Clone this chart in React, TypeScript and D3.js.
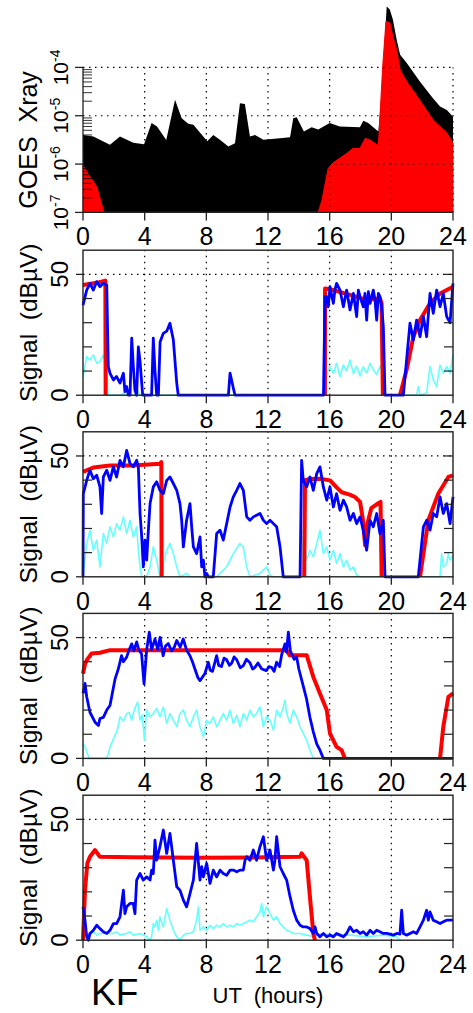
import React from 'react';
import * as d3 from 'd3';

type P = [number, number | null];

// ---- axis ticks / labels ----
const HOUR_TICKS = [0, 4, 8, 12, 16, 20, 24];
const GRID_HOURS = [4, 8, 12, 16, 20];
const SIGNAL_LABEL_TICKS = [0, 50];
const SIGNAL_MINOR_TICKS = [10, 20, 30, 40];
const XRAY_EXPONENTS = [-7, -6, -5, -4];
const XRAY_GRID_EXPONENTS = [-6, -5, -4];
const SIGNAL_TITLE = 'Signal  (dBµV)';
const XRAY_TITLE = 'GOES  Xray';
const STATION = 'KF';
const X_TITLE = 'UT  (hours)';

// ---- GOES X-ray flux (W/m^2), long (black) and short (red) channel ----
const xrayLong: P[] = [
  [0, 3.98e-6], [0.67, 3.7e-6], [1.75, 2.5e-6], [2.4, 3.7e-6], [3.26, 2.75e-6], [3.96, 2.57e-6],
  [4.45, 7.1e-6], [4.8, 6.0e-6], [5.4, 3.16e-6], [5.97, 2.14e-5], [6.4, 8.9e-6], [6.83, 6.8e-6],
  [7.16, 6.5e-6], [8.06, 2.95e-6], [8.45, 3.98e-6], [8.9, 3.16e-6], [9.43, 2.3e-6], [9.86, 2.7e-6],
  [10.18, 1.82e-5], [10.5, 1.74e-5], [10.83, 3.7e-6], [11.16, 3.98e-6], [11.7, 3.2e-6], [12.6, 3.4e-6],
  [13.43, 3.6e-6], [13.64, 8.9e-6], [13.86, 9.3e-6], [14.33, 4.7e-6], [14.83, 5.8e-6], [15.26, 5.2e-6],
  [16.0, 7.1e-6], [16.66, 6.0e-6], [17.96, 5.8e-6], [18.18, 7.9e-6], [18.5, 7.1e-6], [19.16, 4.7e-6],
  [19.37, 2.95e-5], [19.7, 1.82e-3], [19.9, 1.58e-3], [20.1, 9.8e-4], [20.35, 3.7e-4], [20.57, 1.82e-4],
  [21.0, 1.23e-4], [21.85, 5.1e-5], [22.7, 2.3e-5], [23.16, 1.55e-5], [23.6, 1.32e-5], [24, 9.5e-6],
];
const xrayShort: P[] = [
  [0, 9.5e-7], [0.45, 5.5e-7], [0.9, 3.4e-7], [1.32, 1.1e-7], [1.4, 1e-7], [15.26, 1e-7],
  [15.5, 1.8e-7], [15.9, 8.1e-7], [16.2, 1.05e-6], [17.1, 1.66e-6], [17.5, 2.1e-6], [17.96, 2.1e-6],
  [18.3, 3.4e-6], [18.6, 3.2e-6], [19.16, 2.4e-6], [19.44, 1.05e-4], [19.65, 8.9e-4], [19.9, 8.5e-4],
  [20.1, 4.4e-4], [20.35, 2.3e-4], [20.57, 8.9e-5], [21.0, 5.1e-5], [21.85, 2.1e-5], [22.7, 8.3e-6],
  [23.6, 4.4e-6], [24, 2.7e-6],
];

// ---- Panel 1 ----
const sig1Model: P[] = [
  [0, 45.6], [0.5, 46.1], [1.0, 46.7], [1.45, 47.4], [1.47, 0], [1.48, null], [15.68, null], [15.69, 0],
  [15.7, 44.2], [16.24, 43.5], [17.32, 41.5], [18.4, 39.4], [19.26, 40.1], [19.37, 38], [19.45, 0],
  [19.46, null], [20.55, null], [20.56, 0], [20.99, 10.5], [21.43, 24.2], [21.86, 31.1], [22.51, 38],
  [23.16, 42.1], [24, 44.9],
];
const sig1Meas: P[] = [
  [0, 37.3], [0.24, 43.5], [0.45, 46.3], [0.67, 43.5], [0.89, 47], [1.1, 44.9], [1.32, 46.3], [1.54, 45.6],
  [1.64, 11.8], [1.75, 9.1], [1.97, 6.3], [2.18, 7.7], [2.4, 5], [2.62, 9.1], [2.72, 1.5], [2.83, 3.6],
  [2.94, 0], [3.05, 0], [3.16, 23.6], [3.26, 12.5], [3.37, 2], [3.48, 0], [3.59, 20], [3.7, 14], [3.87, 0],
  [4.45, 0], [4.56, 23.6], [4.67, 10], [4.78, 0], [4.89, 0], [5.0, 22], [5.21, 25.6], [5.43, 26.5],
  [5.64, 29.8], [5.86, 22.9], [6.08, 5], [6.18, 0], [9.43, 0], [9.54, 9.1], [9.75, 3], [9.86, 0],
  [15.6, 0], [15.7, 40.8], [15.81, 40.8], [15.91, 36.6], [16.02, 44.9], [16.24, 38], [16.34, 43.5],
  [16.45, 46.3], [16.67, 43.5], [16.89, 36.6], [17.1, 43.5], [17.32, 35.3], [17.54, 42.1], [17.75, 32.5],
  [17.86, 43.5], [17.97, 40.8], [18.18, 36.6], [18.29, 42.1], [18.4, 31.1], [18.51, 42.8], [18.62, 38],
  [18.83, 43.5], [18.94, 39.4], [19.05, 31.1], [19.16, 42.1], [19.26, 40.8], [19.37, 36.6], [19.48, 28.5],
  [19.59, 0], [20.78, 0], [20.99, 14.6], [21.21, 29.8], [21.43, 22.9], [21.64, 31.1], [21.86, 24.2],
  [22.08, 32.5], [22.29, 24.2], [22.51, 42.1], [22.72, 33.9], [22.94, 43.5], [23.16, 36.6], [23.37, 42.1],
  [23.59, 32.5], [23.81, 30], [24, 46.3],
];
const sig1Weak: P[] = [
  [0, 7.7], [0.13, 12], [0.24, 16], [0.45, 14.6], [0.67, 16.7], [0.89, 13.2], [1.1, 14], [1.32, 16.7],
  [1.43, 14], [1.54, 10], [1.64, 0], [2.5, 0], [2.62, 1], [2.72, 0], [3.5, 0], [3.59, 1.5], [3.7, 0],
  [15.7, 0], [15.81, 9.1], [16.02, 11.8], [16.24, 9.1], [16.45, 13.2], [16.67, 7.7], [16.89, 12.5],
  [17.1, 10], [17.32, 14.6], [17.54, 9], [17.75, 12], [17.97, 8], [18.18, 11.8], [18.4, 9.1],
  [18.62, 13.2], [18.83, 10.5], [19.05, 8.5], [19.26, 12], [19.48, 9.1], [19.59, 0], [21.64, 0],
  [21.75, 3.6], [21.86, 0], [22.29, 1], [22.51, 12], [22.72, 6.3], [22.94, 3.6], [23.16, 12.5],
  [23.37, 9.1], [23.59, 11.8], [23.81, 9.1], [24, 16.7],
];

// ---- Panel 2 ----
const sig2Model: P[] = [
  [0, 43.4], [0.67, 45.2], [1.75, 46.1], [3.26, 46.1], [4.99, 46.8], [5.08, 47.5], [5.1, 0], [5.11, null],
  [14.34, null], [14.35, 0], [14.4, 40], [14.72, 40.5], [15.37, 40.6], [16.02, 39.9], [16.45, 37],
  [16.78, 35], [17.3, 34], [17.64, 33], [17.97, 31], [18.15, 24], [18.3, 13], [18.45, 22], [18.7, 28.4],
  [19.05, 30], [19.3, 31], [19.37, 0], [19.38, null], [21.85, null], [21.86, 0], [22.4, 23.4],
  [23.05, 34.5], [23.7, 41.3], [24, 42],
];
const sig2Meas: P[] = [
  [0, 0], [0.02, 34.4], [0.24, 39.9], [0.45, 44.1], [0.67, 40.6], [0.89, 42], [1.1, 37.2], [1.21, 26.2],
  [1.32, 41.3], [1.54, 44.1], [1.75, 39.9], [1.97, 45.5], [2.18, 41.3], [2.4, 48.2], [2.62, 45.5],
  [2.83, 52.3], [3.05, 46.8], [3.26, 45.5], [3.48, 48.2], [3.59, 45.5], [3.7, 26.2], [3.81, 16.5],
  [3.91, 4.1], [4.02, 15.2], [4.13, 6.9], [4.24, 19.3], [4.35, 30.3], [4.56, 37.2], [4.78, 39.3],
  [4.99, 35.8], [5.21, 34.4], [5.43, 39.9], [5.64, 41.3], [5.86, 38.6], [6.08, 35.8], [6.29, 30.3],
  [6.4, 23.4], [6.51, 12.4], [6.72, 23.4], [6.94, 30.3], [7.05, 20.7], [7.16, 12.4], [7.37, 9.6],
  [7.59, 16.5], [7.7, 4.1], [7.81, 6.9], [7.91, 0], [8.02, 1.4], [8.13, 0], [8.45, 0], [8.67, 17.9],
  [8.89, 19.3], [9.1, 15.2], [9.32, 22], [9.54, 28.9], [9.75, 33.1], [9.97, 35.8], [10.18, 38.6],
  [10.4, 35.8], [10.62, 24.8], [10.83, 23.4], [11.05, 24.8], [11.26, 25.5], [11.48, 26.2], [11.7, 23.4],
  [11.91, 22], [12.13, 23.4], [12.35, 22], [12.56, 20.7], [12.78, 12.4], [12.99, 0], [14.08, 0],
  [14.18, 48.2], [14.29, 39.9], [14.51, 37.2], [14.72, 41.3], [14.94, 35.8], [15.16, 42.7], [15.37, 45.5],
  [15.59, 37.2], [15.81, 31.7], [16.02, 37.2], [16.24, 28.9], [16.45, 34.4], [16.67, 27.5], [16.89, 31.7],
  [17.1, 28.9], [17.32, 23.4], [17.54, 26.2], [17.75, 22], [17.97, 24.8], [18.18, 19.3], [18.4, 11],
  [18.62, 23.4], [18.83, 20.7], [19.05, 26.2], [19.26, 17.9], [19.48, 23.4], [19.59, 0], [21.75, 0],
  [22.08, 20.7], [22.29, 23.4], [22.51, 19.3], [22.72, 26.2], [22.94, 24.8], [23.16, 33.1], [23.37, 26.2],
  [23.59, 30.3], [23.81, 22], [24, 33.1],
];
const sig2Weak: P[] = [
  [0, 0], [0.24, 13.8], [0.45, 19.3], [0.67, 11], [0.89, 15.2], [1.1, 4.1], [1.32, 17.9], [1.54, 13.8],
  [1.75, 20.7], [1.97, 16.5], [2.18, 22], [2.4, 19.3], [2.62, 24.8], [2.83, 17.9], [3.05, 23.4],
  [3.26, 16.5], [3.48, 20.7], [3.59, 11], [3.7, 4.1], [3.81, 0], [4.13, 0], [4.35, 4.1], [4.56, 12.4],
  [4.78, 6.9], [4.99, 0], [5.21, 5.5], [5.43, 11], [5.64, 13.8], [5.86, 9.6], [6.08, 4.1], [6.29, 0],
  [6.72, 1.4], [6.94, 0], [8.67, 0], [9.32, 4.1], [9.75, 9.6], [10.18, 13.8], [10.4, 12.4], [10.62, 4.1],
  [10.83, 0], [11.48, 1.4], [11.91, 4.1], [12.13, 0.7], [12.35, 0], [14.18, 0], [14.29, 19.3],
  [14.4, 12.4], [14.51, 6.9], [14.72, 11], [14.94, 8.3], [15.16, 13.8], [15.37, 19.3], [15.59, 9.6],
  [15.81, 12.4], [16.02, 6.9], [16.24, 11], [16.45, 5.5], [16.67, 9.6], [16.89, 4.1], [17.1, 6.9],
  [17.32, 2.8], [17.54, 4.1], [17.75, 0.7], [17.97, 0], [23.16, 0], [23.26, 9.6], [23.37, 4.1],
  [23.59, 5.5], [23.7, 9.6], [23.81, 6.9], [24, 9],
];

// ---- Panel 3 ----
const sig3Model: P[] = [
  [0, 35.1], [0.13, 39], [0.24, 40.6], [0.56, 43.4], [1.1, 43.7], [1.75, 44.8], [5, 44.8], [10, 44.8],
  [13.21, 44.8], [13.4, 42.7], [14.51, 42.7], [14.94, 33.7], [15.37, 26.9], [15.81, 20], [16.02, 10.3],
  [16.45, 4.8], [16.78, 3.4], [16.99, 0], [17, null], [23.15, null], [23.16, 0], [23.37, 13.1],
  [23.7, 25.5], [24, 26.9],
];
const sig3Meas: P[] = [
  [0, 26.9], [0.13, 31], [0.24, 25.5], [0.45, 19.1], [0.78, 15], [1.0, 13.6], [1.1, 16.5], [1.32, 17],
  [1.54, 20], [1.75, 21.9], [2.08, 32.9], [2.29, 37], [2.5, 42.5], [2.62, 40], [2.83, 41.9], [3.0, 45],
  [3.16, 47.4], [3.3, 44.5], [3.48, 48.2], [3.62, 45], [3.8, 43.2], [3.96, 30.8], [4.13, 45], [4.3, 52.2],
  [4.45, 45], [4.67, 49.4], [4.85, 45], [5.0, 50.1], [5.2, 42.5], [5.35, 46.5], [5.53, 47.5], [5.75, 44.5],
  [5.92, 46], [6.08, 48.8], [6.3, 46], [6.5, 49.4], [6.72, 44.8], [6.94, 42.5], [7.1, 40], [7.26, 37],
  [7.45, 33.5], [7.59, 32.2], [7.9, 35], [8.13, 39.8], [8.25, 36.5], [8.4, 36], [8.67, 42.5], [8.8, 38.5],
  [8.98, 38], [9.15, 41.5], [9.32, 40.8], [9.5, 38.5], [9.65, 39.5], [9.8, 42], [9.97, 40.8], [10.2, 37.5],
  [10.4, 38.4], [10.6, 41], [10.83, 39.6], [11.0, 37], [11.16, 37.7], [11.35, 39.5], [11.6, 37],
  [11.9, 36.3], [12.05, 38], [12.23, 37.7], [12.4, 36], [12.56, 39.8], [12.75, 38], [12.89, 43],
  [13.1, 47.4], [13.2, 44], [13.32, 52.2], [13.45, 44.5], [13.54, 43.2], [13.7, 41], [13.86, 42],
  [14.0, 37], [14.25, 30.8], [14.5, 24.6], [14.72, 17], [14.94, 11], [15.16, 6], [15.37, 3.4],
  [15.59, 0], [24, 0],
];
const sig3Weak: P[] = [
  [0, 6.2], [0.13, 4.8], [0.4, 0], [1.5, 0], [1.65, 2], [1.75, 4.7], [1.97, 8], [2.18, 11],
  [2.29, 13.6], [2.4, 17.2], [2.62, 15.5], [2.83, 18.6], [3.0, 19], [3.16, 15.8], [3.35, 20.5], [3.54, 23.3],
  [3.7, 15.8], [3.85, 18], [3.98, 7.5], [4.13, 20], [4.35, 17.2], [4.56, 18.6], [4.78, 20.7], [4.99, 17.2],
  [5.21, 21.3], [5.43, 14.5], [5.64, 18.6], [5.86, 15.8], [6.08, 13.1], [6.29, 18.6], [6.51, 20],
  [6.72, 15.8], [6.94, 13.1], [7.16, 17.2], [7.37, 20], [7.59, 13.1], [7.81, 9], [8.02, 15.8], [8.24, 14.5],
  [8.45, 17.2], [8.67, 13.1], [8.89, 15.8], [9.1, 18.6], [9.32, 15.8], [9.54, 20], [9.75, 14.5],
  [9.97, 17.9], [10.18, 13.1], [10.4, 18.6], [10.62, 15.8], [10.83, 20], [11.05, 17.2], [11.26, 18.6],
  [11.48, 21.3], [11.7, 13.1], [11.91, 17.2], [12.13, 15.8], [12.35, 11.7], [12.56, 20], [12.78, 17.2],
  [12.99, 21.3], [13.1, 24.1], [13.21, 18.6], [13.43, 14.5], [13.64, 20], [13.86, 17.2], [14.08, 13.1],
  [14.29, 10.3], [14.51, 7.6], [14.72, 3.4], [14.94, 0], [24, 0],
];

// ---- Panel 4 ----
const sig4Model: P[] = [
  [0, 0], [0.13, 20.7], [0.28, 31.8], [0.45, 34.5], [0.78, 37.3], [1.1, 34.5], [3.26, 34.3], [7.59, 34.1],
  [11.91, 34.3], [14.08, 34.5], [14.18, 35.9], [14.51, 33.1], [14.72, 18], [14.94, 2.8], [15.05, 0],
];
const sig4Meas: P[] = [
  [0, 13.8], [0.13, 8.3], [0.24, 1.4], [0.35, 0], [0.45, 2.8], [0.67, 4.1], [0.89, 6.2], [1.1, 4.8],
  [1.32, 3.5], [1.54, 2.8], [1.75, 4.1], [1.97, 6.9], [2.18, 6.9], [2.4, 9.7], [2.62, 20.7], [2.72, 11],
  [2.83, 13.8], [3.05, 15.2], [3.26, 15.2], [3.37, 11], [3.48, 24.9], [3.7, 27.6], [3.91, 24.9],
  [4.13, 26.2], [4.35, 24.9], [4.45, 29], [4.56, 27.6], [4.67, 41.4], [4.78, 33.1], [4.99, 38.7],
  [5.21, 45.6], [5.43, 35.9], [5.64, 44.2], [5.86, 33.1], [6.08, 22.1], [6.29, 20.7], [6.51, 16.6],
  [6.72, 13.8], [6.94, 19.3], [7.16, 24.9], [7.37, 40.1], [7.59, 24.9], [7.7, 30.4], [7.81, 26.2],
  [8.02, 31.8], [8.24, 23.5], [8.45, 29], [8.67, 26.2], [8.89, 29], [9.1, 27.6], [9.32, 26.9], [9.54, 29],
  [9.75, 29], [9.97, 28.3], [10.18, 29], [10.4, 29], [10.51, 33.1], [10.62, 34.5], [10.83, 33.1],
  [11.05, 37.3], [11.26, 33.1], [11.48, 38.7], [11.7, 42.8], [11.91, 33.1], [12.13, 37.3], [12.35, 29],
  [12.45, 33.1], [12.56, 42.8], [12.78, 30.4], [12.99, 27.6], [13.21, 24.9], [13.43, 18], [13.64, 12.4],
  [13.86, 8.3], [14.08, 6.2], [14.29, 5.5], [14.51, 5.5], [14.72, 4.8], [14.94, 2.8], [15.05, 5.5],
  [15.16, 2.8], [15.37, 1.4], [15.59, 2.8], [15.81, 1.4], [16.02, 2.1], [16.24, 1.4], [16.45, 2.8],
  [16.67, 2.1], [16.89, 1.4], [17.1, 2.8], [17.32, 5.5], [17.54, 3.5], [17.75, 4.1], [17.97, 2.8],
  [18.18, 3.5], [18.4, 2.1], [18.62, 4.1], [18.83, 2.8], [19.05, 4.1], [19.26, 3.5], [19.48, 2.8],
  [19.7, 2.8], [19.91, 2.5], [20.13, 2.1], [20.35, 2.8], [20.56, 2.5], [20.67, 12.4], [20.78, 2.8],
  [20.99, 2.1], [21.21, 2.8], [21.43, 3.5], [21.64, 2.8], [21.86, 5.5], [22.08, 8.3], [22.29, 12.4],
  [22.4, 8.3], [22.51, 11.7], [22.72, 8.3], [22.94, 7.6], [23.16, 6.9], [23.37, 7.6], [23.59, 8.3],
  [24, 8.3],
];
const sig4Weak: P[] = [
  [0, 1.4], [0.24, 2.8], [0.45, 2.1], [0.67, 3.5], [0.89, 2.1], [1.1, 2.8], [1.54, 2.8], [1.97, 2.8],
  [2.18, 3.5], [2.4, 2.1], [2.83, 2.8], [3.05, 3.5], [3.26, 2.1], [3.7, 2.8], [4.13, 1.4], [4.35, 0],
  [4.45, 1.4], [4.56, 6.9], [4.67, 5.5], [4.78, 8.3], [4.89, 4.1], [4.99, 9.7], [5.21, 5.5], [5.43, 13.1],
  [5.64, 8.3], [5.86, 4.1], [6.08, 1.4], [6.29, 0], [6.51, 2.1], [6.72, 2.8], [6.94, 2.8], [7.16, 3.5],
  [7.37, 8.3], [7.48, 13.8], [7.59, 4.1], [7.81, 5.5], [8.02, 4.1], [8.24, 6.2], [8.45, 4.8], [8.67, 6.2],
  [8.89, 5.5], [9.1, 6.9], [9.32, 5.5], [9.54, 6.2], [9.75, 5.5], [9.97, 6.9], [10.18, 6.2], [10.4, 6.9],
  [10.62, 7.6], [10.83, 8.3], [11.05, 7.6], [11.26, 9.7], [11.48, 11.7], [11.59, 15.2], [11.7, 9.7],
  [11.91, 13.8], [12.13, 11], [12.35, 8.3], [12.56, 9.7], [12.78, 6.9], [12.99, 5.5], [13.21, 4.1],
  [13.43, 3.5], [13.64, 2.8], [14.08, 2.8], [14.51, 2.1], [14.94, 1.4], [15.37, 2.8], [16.24, 2.1],
  [17.32, 2.1], [18.4, 1.4], [19.48, 2.1], [20.35, 1.4], [20.56, 0],
];

const PANELS = [
  { model: sig1Model, meas: sig1Meas, weak: sig1Weak },
  { model: sig2Model, meas: sig2Meas, weak: sig2Weak },
  { model: sig3Model, meas: sig3Meas, weak: sig3Weak },
  { model: sig4Model, meas: sig4Meas, weak: sig4Weak },
];

const FONT = '"Liberation Sans", Arial, Helvetica, sans-serif';
const AXIS = '#222';
const RED = '#ff0000';
const BLUE = '#0000ff';
const CYAN = '#66ffff';

export default function App() {
  const W = 473;
  const H = 1013;
  const X0 = 83;
  const X1 = 453;
  const PH = 145;
  const bottoms = [212.4, 395.2, 576.8, 758.4, 940.2];
  const x = d3.scaleLinear().domain([0, 24]).range([X0, X1]);

  // X-ray panel
  const xb = bottoms[0];
  const yX = d3.scaleLog().domain([1e-7, 1e-4]).range([xb, xb - PH]);
  const area = d3
    .area<P>()
    .x((d) => x(d[0]))
    .y0(yX(1e-7))
    .y1((d) => yX(Math.max(d[1] as number, 1e-7)));
  const minor: number[] = [];
  XRAY_EXPONENTS.slice(0, 3).forEach((e) => {
    for (let m = 2; m <= 9; m++) minor.push(m * Math.pow(10, e));
  });

  const dotted = { stroke: '#000', strokeWidth: 1.2, strokeDasharray: '1.5,4.5' };

  const xTicks = (b: number, key: string) => (
    <g key={key}>
      {HOUR_TICKS.map((h) => (
        <g key={h}>
          <line x1={x(h)} x2={x(h)} y1={b} y2={b + 8} stroke={AXIS} strokeWidth={1.3} />
          <text x={x(h)} y={b + 33} textAnchor="middle" fontSize={25} fontFamily={FONT} fill="#000">
            {h}
          </text>
        </g>
      ))}
    </g>
  );

  return (
    <svg
      width={W}
      height={H}
      viewBox={`0 0 ${W} ${H}`}
      style={{ position: 'absolute', left: 0, top: 0, background: '#fff' }}
    >
      <rect x={0} y={0} width={W} height={H} fill="#fff" />
      {/* ---------- X-ray panel ---------- */}
      <path d={area(xrayLong) || ''} fill="#000" />
      <path d={area(xrayShort) || ''} fill={RED} stroke={RED} strokeWidth={1} />
      {XRAY_GRID_EXPONENTS.map((e) => (
        <line key={'hg' + e} x1={X0} x2={X1} y1={yX(Math.pow(10, e))} y2={yX(Math.pow(10, e))} {...dotted} />
      ))}
      {[...GRID_HOURS, 24].map((h) => (
        <line key={'vg' + h} x1={x(h)} x2={x(h)} y1={xb} y2={xb - PH} {...dotted} />
      ))}
      <line x1={X0} x2={X0} y1={xb} y2={xb - PH} stroke={AXIS} strokeWidth={1.3} />
      <line x1={X0} x2={X1} y1={xb} y2={xb} stroke={AXIS} strokeWidth={1.3} />
      {minor.map((v, i) => (
        <line key={'mt' + i} x1={X0} x2={X0 + 9} y1={yX(v)} y2={yX(v)} stroke="#000" strokeWidth={0.8} />
      ))}
      {XRAY_EXPONENTS.map((e) => (
        <g key={'xl' + e}>
          <line x1={X0 - 8} x2={X0} y1={yX(Math.pow(10, e))} y2={yX(Math.pow(10, e))} stroke={AXIS} strokeWidth={1.3} />
          <text
            transform={`translate(68,${yX(Math.pow(10, e))}) rotate(-90)`}
            textAnchor="middle"
            fontSize={21}
            fontFamily={FONT}
          >
            10
            <tspan dy={-8} fontSize={14}>
              {'-' + Math.abs(e)}
            </tspan>
          </text>
        </g>
      ))}
      <text
        transform={`translate(37,${xb - PH / 2}) rotate(-90)`}
        textAnchor="middle"
        fontSize={25}
        fontFamily={FONT}
        style={{ whiteSpace: 'pre' }}
      >
        {XRAY_TITLE}
      </text>
      {xTicks(xb, 'xt0')}

      {/* ---------- Signal panels ---------- */}
      {PANELS.map((p, i) => {
        const b = bottoms[i + 1];
        const y = d3.scaleLinear().domain([0, 60]).range([b, b - PH]);
        const line = d3
          .line<P>()
          .defined((d) => d[1] !== null)
          .x((d) => x(d[0]))
          .y((d) => y(d[1] as number));
        return (
          <g key={'p' + i}>
            {GRID_HOURS.map((h) => (
              <line key={'g' + h} x1={x(h)} x2={x(h)} y1={b} y2={b - PH} {...dotted} />
            ))}
            <line x1={X0} x2={X1} y1={y(50)} y2={y(50)} {...dotted} />
            <path d={line(p.weak) || ''} fill="none" stroke={CYAN} strokeWidth={1.6} strokeLinejoin="round" />
            <path d={line(p.model) || ''} fill="none" stroke={RED} strokeWidth={4} strokeLinejoin="round" />
            <path d={line(p.meas) || ''} fill="none" stroke={BLUE} strokeWidth={2.8} strokeLinejoin="round" />
            <rect x={X0} y={b - PH} width={X1 - X0} height={PH} fill="none" stroke={AXIS} strokeWidth={1.4} />
            {SIGNAL_MINOR_TICKS.map((v) => (
              <g key={'mt' + v}>
                <line x1={X0} x2={X0 + 9} y1={y(v)} y2={y(v)} stroke={AXIS} strokeWidth={1.2} />
                <line x1={X1 - 9} x2={X1} y1={y(v)} y2={y(v)} stroke={AXIS} strokeWidth={1.2} />
              </g>
            ))}
            <line x1={X1 - 9} x2={X1} y1={y(50)} y2={y(50)} stroke={AXIS} strokeWidth={1.2} />
            {SIGNAL_LABEL_TICKS.map((v) => (
              <g key={'lt' + v}>
                <line x1={X0 - 7} x2={X0} y1={y(v)} y2={y(v)} stroke={AXIS} strokeWidth={1.3} />
                <text
                  transform={`translate(68,${y(v)}) rotate(-90)`}
                  textAnchor="middle"
                  fontSize={24}
                  fontFamily={FONT}
                >
                  {v}
                </text>
              </g>
            ))}
            <text
              transform={`translate(37,${b - PH / 2}) rotate(-90)`}
              textAnchor="middle"
              fontSize={24.5}
              fontFamily={FONT}
              style={{ whiteSpace: 'pre' }}
            >
              {SIGNAL_TITLE}
            </text>
            {xTicks(b, 'xt' + (i + 1))}
          </g>
        );
      })}

      <text x={91} y={1005} fontSize={37} fontFamily={FONT}>
        {STATION}
      </text>
      <text
        x={(X0 + X1) / 2}
        y={1003}
        textAnchor="middle"
        fontSize={22}
        fontFamily={FONT}
        style={{ whiteSpace: 'pre' }}
      >
        {X_TITLE}
      </text>
    </svg>
  );
}
